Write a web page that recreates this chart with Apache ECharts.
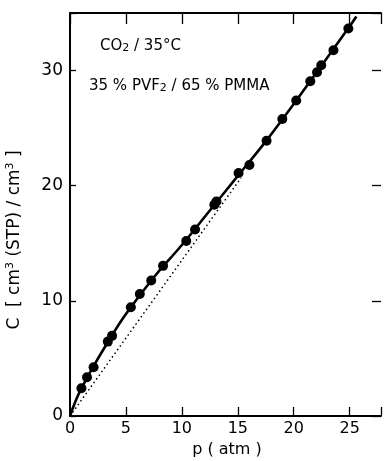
<!DOCTYPE html>
<html><head><meta charset="utf-8">
<script src="https://cdn.jsdelivr.net/npm/echarts@6/dist/echarts.min.js"></script>
<style>html,body{margin:0;padding:0;background:#fff}#c{width:384px;height:461px}</style>
</head><body><div id="c"></div>
<script>
// measured data points (p in atm, C in cm3(STP)/cm3)
var pData = [1.02, 1.52, 2.11, 3.38, 3.76, 5.44, 6.24, 7.26, 8.32, 10.39, 11.18, 12.9, 13.09, 15.07, 16.04, 17.57, 18.98, 20.22, 21.48, 22.08, 22.46, 23.55, 24.88];
var cData = [2.41, 3.37, 4.23, 6.46, 6.96, 9.45, 10.6, 11.77, 13.04, 15.2, 16.2, 18.35, 18.63, 21.1, 21.8, 23.9, 25.8, 27.4, 29.07, 29.85, 30.46, 31.77, 33.65];
// solid fitted curve
var curveP = [0, 0.5, 1, 2, 3.5, 5, 7.5, 10, 12.5, 15, 17.5, 20, 22.5, 25, 25.6];
var curveC = [0, 1.3, 2.35, 4.15, 6.6, 8.85, 12.05, 14.85, 17.85, 20.85, 23.85, 27.1, 30.45, 33.85, 34.7];
// dotted line (Henry's law asymptote)
var dotP = [0, 15.3];
var dotC = [0, 20.7];
var xTicks = [0, 5, 10, 15, 20, 25];
var yTicks = [0, 10, 20, 30];

function zip(a, b) { return a.map(function (v, i) { return [v, b[i]]; }); }

var FONT = 'DejaVu Sans';
var chart = echarts.init(document.getElementById('c'), null, {renderer: 'canvas'});
var lineStyleAxis = {color: '#000', width: 2};
var tickStyle = {color: '#000', width: 1.3};
chart.setOption({
  animation: false,
  backgroundColor: '#fff',
  grid: {left: 70, right: 0, top: 13, bottom: 45},
  xAxis: [{
    type: 'value', min: 0, max: 27.8, interval: 5, position: 'bottom',
    axisLine: {show: true, onZero: false, lineStyle: lineStyleAxis},
    axisTick: {show: true, inside: true, length: 9, lineStyle: tickStyle},
    axisLabel: {show: true, margin: 5, color: '#000', fontFamily: FONT, fontSize: 16,
      formatter: function (v) { return xTicks.indexOf(v) >= 0 ? String(v) : ''; }},
    splitLine: {show: false}
  }, {
    type: 'value', min: 0, max: 27.8, interval: 5, position: 'top',
    axisLine: {show: true, onZero: false, lineStyle: lineStyleAxis},
    axisTick: {show: true, inside: true, length: 11, lineStyle: tickStyle},
    axisLabel: {show: false}, splitLine: {show: false}
  }],
  yAxis: [{
    type: 'value', min: 0, max: 35, interval: 10, position: 'left',
    axisLine: {show: true, onZero: false, lineStyle: lineStyleAxis},
    axisTick: {show: true, inside: true, length: 6, lineStyle: tickStyle},
    axisLabel: {show: true, margin: 7, color: '#000', fontFamily: FONT, fontSize: 17,
      formatter: function (v) { return yTicks.indexOf(v) >= 0 ? String(v) : ''; }},
    splitLine: {show: false}
  }, {
    type: 'value', min: 0, max: 35, interval: 10, position: 'right',
    axisLine: {show: false, onZero: false},
    axisTick: {show: true, inside: true, length: 9, lineStyle: tickStyle},
    axisLabel: {show: false}, splitLine: {show: false}
  }],
  series: [{
    type: 'line', data: zip(dotP, dotC), showSymbol: false, symbol: 'none',
    lineStyle: {color: '#000', width: 1.5, type: [1.5, 3]}, z: 1
  }, {
    type: 'line', data: zip(curveP, curveC), smooth: 0.4, symbol: 'none',
    lineStyle: {color: '#000', width: 2.6}, z: 2
  }, {
    type: 'scatter', data: zip(pData, cData), symbol: 'circle', symbolSize: 10,
    itemStyle: {color: '#000', opacity: 1}, z: 3
  }],
  graphic: [{
    type: 'text', left: 100, top: 39,
    style: {
      text: '{n|CO}{s|2}{n| / 35°C}',
      rich: {
        n: {fontFamily: FONT, fontSize: 15, fill: '#000', verticalAlign: 'bottom'},
        s: {fontFamily: FONT, fontSize: 11, fill: '#000', padding: [6, 0, 0, 0], verticalAlign: 'bottom'}
      }
    }
  }, {
    type: 'text', left: 89, top: 79,
    style: {
      text: '{n|35 % PVF}{s|2}{n| / 65 % PMMA}',
      rich: {
        n: {fontFamily: FONT, fontSize: 15, fill: '#000', verticalAlign: 'bottom'},
        s: {fontFamily: FONT, fontSize: 11, fill: '#000', padding: [6, 0, 0, 0], verticalAlign: 'bottom'}
      }
    }
  }, {
    type: 'text', x: 14, y: 240, rotation: Math.PI / 2,
    style: {
      text: '{n|C  [ cm}{p|3}{n| (STP) / cm}{p|3}{n| ]}',
      align: 'center', verticalAlign: 'middle',
      rich: {
        n: {fontFamily: FONT, fontSize: 17, fill: '#000', verticalAlign: 'bottom'},
        p: {fontFamily: FONT, fontSize: 11, fill: '#000', padding: [0, 0, 8, 0], verticalAlign: 'bottom'}
      }
    }
  }, {
    type: 'text', x: 227, y: 450,
    style: {text: 'p ( atm )', fontFamily: FONT, fontSize: 16, fill: '#000', align: 'center', verticalAlign: 'middle'}
  }]
});
</script></body></html>
